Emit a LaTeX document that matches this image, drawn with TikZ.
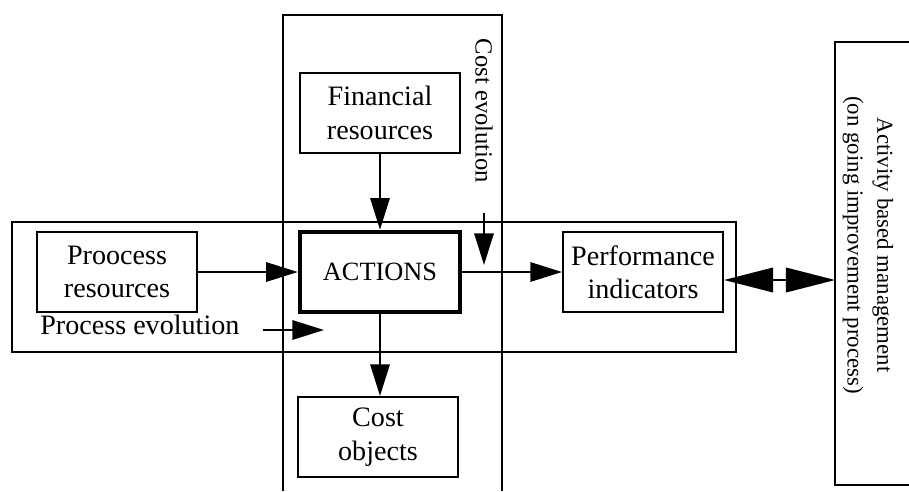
\documentclass[tikz,border=0pt]{standalone}
\usepackage{fontspec}
\setmainfont{Liberation Serif}
\usetikzlibrary{arrows.meta,positioning}
\tikzset{
  resbox/.style={
    rectangle, draw, line width=1.2pt,
    minimum width=3.2cm, minimum height=1.6cm,
    font=\fontsize{16}{19}\selectfont, align=center, inner sep=2pt
  },
  actbox/.style={
    resbox, line width=2.6pt, font=\fontsize{15}{19}\selectfont
  },
  flowarrow/.style={
    -{Triangle[length=18pt,width=11pt]}, line width=1.2pt
  },
  biarrow/.style={
    {Triangle[length=28pt,width=14pt]}-{Triangle[length=28pt,width=14pt]}, line width=1.2pt
  },
  framebox/.style={
    line width=1.2pt
  },
  labeltext/.style={
    font=\fontsize{16}{19}\selectfont, inner sep=0pt
  },
}
\begin{document}
\begin{tikzpicture}[x=0.02cm, y=-0.02cm]
  \useasboundingbox (0,0) rectangle (909,491);
  % frames
  \draw[framebox] (12,222) rectangle (736,352);
  \draw[framebox] (283,491) |- (502,15) -- (502,491);
  \draw[framebox] (909,42) -| (835,485) -- (909,485);
  % blocks
  \node[resbox] (fin) at (380,113) {Financial\\resources};
  \node[actbox] (act) at (380,272) {ACTIONS};
  \node[resbox] (proc) at (117,272) {Proocess\\resources};
  \node[resbox] (perf) at (643,272) {Performance\\indicators};
  \node[resbox] (cost) at (378,437) {Cost\\objects};
  % labels
  \node[labeltext, font=\fontsize{14}{17}\selectfont, rotate=-90] (costevo) at (484,111) {Cost evolution};
  \node[labeltext, anchor=base west] (procevo) at (40,334) {Process evolution};
  \node[labeltext, font=\fontsize{13}{17}\selectfont, rotate=-90, align=center] (abm) at (868,245)
    {Activity based management\\(on going improvement process)};
  % arrows
  \coordinate (ce1) at (484,213);
  \coordinate (ce2) at (484,265);
  \coordinate (pe1) at (263,330);
  \coordinate (pe2) at (324,330);
  \coordinate (abmin) at (835,280);
  \draw[flowarrow] (fin) -- (act);
  \draw[flowarrow] (proc) -- (act);
  \draw[flowarrow] (act.south) -- (act.south |- cost.north);
  \draw[flowarrow] (act) -- (perf);
  \draw[flowarrow] (ce1) -- (ce2);
  \draw[flowarrow] (pe1) -- (pe2);
  \draw[biarrow] (perf.east |- abmin) -- (abmin);
\end{tikzpicture}
\end{document}
